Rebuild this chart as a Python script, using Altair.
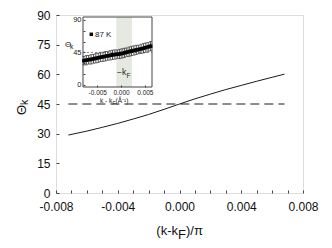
import altair as alt
import pandas as pd

FONT = "Liberation Sans"

# ---------------- main panel data ----------------
main_k = [-0.0072, -0.006, -0.005, -0.004, -0.003, -0.002, -0.001, 0.0,
          0.001, 0.002, 0.003, 0.004, 0.005, 0.006, 0.0068]
main_theta = [29.3, 31.3, 33.2, 35.2, 37.4, 39.7, 42.3, 45.0,
              47.6, 50.0, 52.3, 54.4, 56.5, 58.5, 60.1]
ref_k = [-0.0072, 0.0068]
ref_theta = [45.0, 45.0]

main_x_labels = [-0.008, -0.004, 0.0, 0.004, 0.008]
main_x_minor = [-0.008, -0.007, -0.006, -0.005, -0.004, -0.003, -0.002, -0.001, 0.0,
                0.001, 0.002, 0.003, 0.004, 0.005, 0.006, 0.007, 0.008]
main_y_labels = [0, 15, 30, 45, 60, 75, 90]

# ---------------- inset data ----------------
inset_k = [-0.0078, -0.0073, -0.0068, -0.0063, -0.0058, -0.0053, -0.0048, -0.0043,
           -0.0038, -0.0033, -0.0028, -0.0023, -0.0018, -0.0013, -0.0008, -0.0003,
           0.0002, 0.0007, 0.0012, 0.0017, 0.0022, 0.0027, 0.0032, 0.0037,
           0.0042, 0.0047, 0.0052, 0.0057, 0.0062]
inset_theta = [33.5, 34.2, 34.8, 35.3, 36.0, 36.8, 37.5, 38.3,
               38.8, 39.6, 40.1, 40.9, 41.5, 42.0, 42.4, 42.8,
               43.5, 44.3, 45.2, 46.0, 46.9, 47.6, 48.4, 49.0,
               49.8, 50.7, 51.6, 52.6, 53.6]
inset_err = [6.0, 6.5, 6.0, 6.5, 6.0, 6.5, 6.5, 6.0,
             6.5, 6.5, 6.0, 6.5, 6.5, 6.5, 6.0, 6.5,
             6.5, 6.5, 6.0, 6.5, 6.5, 6.5, 6.5, 6.0,
             6.5, 6.5, 6.5, 6.0, 6.5]
band_k = [-0.001, 0.0023]
inset_ref_theta = 45
inset_x_labels = [-0.005, 0.0, 0.005]
inset_y_labels = [0, 45, 90]
inset_y_minor = [0, 15, 30, 45, 60, 75, 90]

MAIN_XD = [-0.008, 0.008]
MAIN_YD = [0, 90]
INSET_XD = [-0.008, 0.0065]
INSET_YD = [-3, 94]
INSET_XR = [27, 96]
INSET_YR = [72, 2]
W, H = 247, 178

LABEL_EXPR = "(datum.value < 0 ? '-' : '') + format(abs(datum.value), '.3f')"


def mx():
    return alt.Scale(domain=MAIN_XD, nice=False, zero=False)


def my():
    return alt.Scale(domain=MAIN_YD, nice=False, zero=False)


def ix():
    return alt.Scale(domain=INSET_XD, range=INSET_XR, nice=False, zero=False)


def iy():
    return alt.Scale(domain=INSET_YD, range=INSET_YR, nice=False, zero=False)


main_df = pd.DataFrame({"k": main_k, "theta": main_theta})
ref_df = pd.DataFrame({"k": ref_k, "theta": ref_theta})
inset_df = pd.DataFrame({
    "k": inset_k,
    "theta": inset_theta,
    "lo": [t - e for t, e in zip(inset_theta, inset_err)],
    "hi": [t + e for t, e in zip(inset_theta, inset_err)],
})
band_df = pd.DataFrame({"k0": [band_k[0]], "k1": [band_k[1]],
                        "y0": [INSET_YD[0]], "y1": [INSET_YD[1]]})
frame_df = pd.DataFrame({"k0": [INSET_XD[0]], "k1": [INSET_XD[1]],
                         "y0": [INSET_YD[0]], "y1": [INSET_YD[1]]})
iref_df = pd.DataFrame({"k0": [INSET_XD[0]], "k1": [INSET_XD[1]], "y": [inset_ref_theta]})
txt_df = pd.DataFrame({"a": [0]})

# ---------------- main panel ----------------
main_line = alt.Chart(main_df).mark_line(color="#1a1a1a", strokeWidth=1).encode(
    x=alt.X("k:Q", scale=mx(), axis=alt.Axis(
        orient="bottom", values=main_x_labels, labelExpr=LABEL_EXPR, ticks=False,
        domain=False, grid=False, labelFontSize=12, labelPadding=8, labelColor="#111",
        labelFlush=False, labelOverlap=False, title=None, labelFont=FONT)),
    y=alt.Y("theta:Q", scale=my(), axis=alt.Axis(
        orient="left", values=main_y_labels, ticks=False, domain=False, grid=False,
        labelFontSize=12, labelPadding=6, labelColor="#111", labelOverlap=False,
        title=None, labelFont=FONT)),
)

ref_line = alt.Chart(ref_df).mark_line(color="#1a1a1a", strokeWidth=1, strokeDash=[9, 5]).encode(
    x=alt.X("k:Q", scale=mx(), axis=alt.Axis(
        orient="top", offset=-H, values=main_x_minor, labels=False, domain=False,
        grid=False, ticks=True, tickSize=3, tickColor="#444", title=None)),
    y=alt.Y("theta:Q", scale=my(), axis=alt.Axis(
        orient="right", offset=-W, values=main_y_labels, labels=False, domain=False,
        grid=False, ticks=True, tickSize=3, tickColor="#444", title=None)),
)

# ---------------- inset ----------------
band = alt.Chart(band_df).mark_rect(color="#e6e8e2").encode(
    x=alt.X("k0:Q", scale=ix(), axis=None), x2="k1:Q",
    y=alt.Y("y0:Q", scale=iy(), axis=None), y2="y1:Q",
)

frame = alt.Chart(frame_df).mark_rect(fillOpacity=0, stroke="#444", strokeWidth=1).encode(
    x=alt.X("k0:Q", scale=ix(), axis=alt.Axis(
        orient="top", offset=-INSET_YR[0], values=inset_x_labels, labels=False,
        domain=False, grid=False, ticks=True, tickSize=2, tickColor="#444",
        title=None, zindex=1)),
    x2="k1:Q",
    y=alt.Y("y0:Q", scale=iy(), axis=alt.Axis(
        orient="right", offset=-(W - INSET_XR[0]), values=inset_y_minor, labels=False,
        domain=False, grid=False, ticks=True, tickSize=2, tickColor="#444",
        title=None, zindex=1)),
    y2="y1:Q",
)

iref = alt.Chart(iref_df).mark_rule(color="#666", strokeWidth=0.8, strokeDash=[2, 2]).encode(
    x=alt.X("k0:Q", scale=ix(), axis=None), x2="k1:Q",
    y=alt.Y("y:Q", scale=iy(), axis=None),
)

err = alt.Chart(inset_df).mark_rule(color="#222", strokeWidth=0.8).encode(
    x=alt.X("k:Q", scale=ix(), axis=None),
    y=alt.Y("lo:Q", scale=iy(), axis=None), y2="hi:Q",
)
cap_lo = alt.Chart(inset_df).mark_tick(orient="horizontal", size=3, thickness=0.8, color="#222").encode(
    x=alt.X("k:Q", scale=ix(), axis=None),
    y=alt.Y("lo:Q", scale=iy(), axis=None),
)
cap_hi = alt.Chart(inset_df).mark_tick(orient="horizontal", size=3, thickness=0.8, color="#222").encode(
    x=alt.X("k:Q", scale=ix(), axis=None),
    y=alt.Y("hi:Q", scale=iy(), axis=None),
)
pts = alt.Chart(inset_df).mark_square(size=13, color="#000", opacity=1).encode(
    x=alt.X("k:Q", scale=ix(), axis=alt.Axis(
        orient="bottom", offset=-(H - INSET_YR[0]), values=inset_x_labels,
        labelExpr=LABEL_EXPR, ticks=False, domain=False, grid=False, labelFontSize=6.5,
        labelPadding=2, labelColor="#222", labelFlush=False, labelOverlap=False,
        title=None, labelFont=FONT, zindex=1)),
    y=alt.Y("theta:Q", scale=iy(), axis=alt.Axis(
        orient="left", offset=-INSET_XR[0], values=inset_y_labels, ticks=False,
        domain=False, grid=False, labelFontSize=7.5, labelPadding=2, labelColor="#222",
        labelOverlap=False, title=None, labelFont=FONT, zindex=1)),
)


def label(text, x, y, size, angle=0, align="left", baseline="alphabetic", color="#111"):
    return alt.Chart(txt_df).mark_text(
        text=text, fontSize=size, font=FONT, align=align, baseline=baseline,
        angle=angle, color=color,
    ).encode(x=alt.value(x), y=alt.value(y))


legend_sym = alt.Chart(txt_df).mark_square(size=12, color="#000", opacity=1).encode(
    x=alt.value(35.3), y=alt.value(19.3))

texts = [
    # main x title
    label("(k-k", 122, 220, 13, align="right"),
    label("F", 122, 223.5, 13),
    label(")/\u03c0", 130, 220, 13),
    # main y title
    label("\u0398", -29.7, 95, 13, angle=270, align="center"),
    label("k", -28, 90, 10.5, angle=270, align="left"),
    # inset legend
    label("87 K", 39, 22, 8, color="#222"),
    # inset y title
    label("\u0398", 9, 31.5, 8, color="#222"),
    label("k", 14, 33.5, 6.5, color="#222"),
    # inset -kF
    label("\u2212k", 61, 60, 8.5, color="#222"),
    label("F", 70.5, 62.5, 6.5, color="#222"),
    # inset x title
    label("k - k", 44, 88, 6.5, color="#222"),
    label("F", 56.5, 89.5, 5, color="#222"),
    label(" (\u00c5\u207b\u00b9)", 59.5, 88, 6.5, color="#222"),
]

chart = alt.layer(
    band, frame, iref, err, cap_lo, cap_hi, pts, legend_sym, main_line, ref_line, *texts
).resolve_scale(
    x="independent", y="independent"
).properties(
    width=W, height=H,
    padding={"left": 48, "top": 7, "right": 21, "bottom": 47},
    autosize=alt.AutoSizeParams(type="none"),
).configure_view(
    stroke="#444", strokeWidth=1
).configure(
    font=FONT
)

chart.save("out.html", embed_options={"renderer": "svg", "actions": False})
